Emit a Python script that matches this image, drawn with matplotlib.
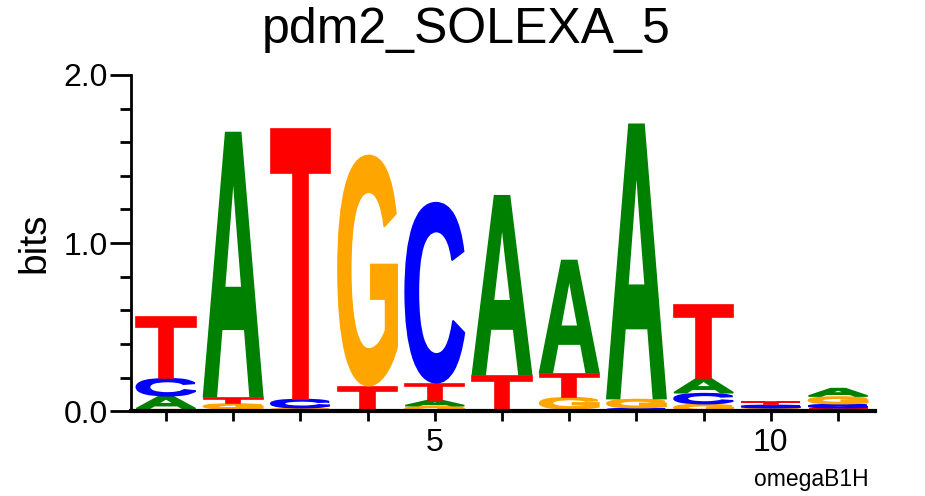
import matplotlib
matplotlib.use("Agg")
import matplotlib.pyplot as plt
from matplotlib.textpath import TextPath
from matplotlib.patches import PathPatch
from matplotlib.font_manager import FontProperties
from matplotlib.transforms import Affine2D

# information content (bits) per position for each base
positions = list(range(1, 12))
A = [0.077, 1.577, 0.0, 0.0, 0.036, 1.07, 0.673, 1.637, 0.089, 0.0, 0.05]
C = [0.107, 0.012, 0.054, 0.0, 1.077, 0.0, 0.012, 0.018, 0.065, 0.019, 0.024]
G = [0.012, 0.033, 0.018, 1.375, 0.03, 0.0, 0.071, 0.054, 0.042, 0.018, 0.045]
T = [0.369, 0.038, 1.607, 0.149, 0.1, 0.214, 0.143, 0.0, 0.44, 0.021, 0.018]
colors = {"A": "#008000", "C": "#0000ff", "G": "#ffa500", "T": "#ff0000"}

fp = FontProperties(family="Liberation Sans", weight="bold")
glyphs = {b: TextPath((0, 0), b, size=1, prop=fp) for b in "ACGT"}


def draw_letter(ax, base, x, y0, h, width=0.88):
    path = glyphs[base]
    ext = path.get_extents()
    tr = (Affine2D()
          .translate(-ext.x0, -ext.y0)
          .scale(width / ext.width, h / ext.height)
          .translate(x - width / 2, y0))
    # thin edge in same colour to make the glyphs a bit heavier
    ax.add_patch(PathPatch(tr.transform_path(path), fc=colors[base],
                           ec=colors[base], lw=1.2))


fig = plt.figure(figsize=(9.25, 4.96), dpi=100)
ax = fig.add_axes([0.1416, 0.171, 0.8044, 0.678])

for i, pos in enumerate(positions):
    col = sorted([("A", A[i]), ("C", C[i]), ("G", G[i]), ("T", T[i])],
                 key=lambda t: t[1])
    y = 0.0
    for base, h in col:
        if h > 0:
            draw_letter(ax, base, pos, y + 0.003, h - 0.006)
            y += h

ax.set_xlim(0.48, 11.55)
ax.set_ylim(0, 2.0)
for s in ["top", "right"]:
    ax.spines[s].set_visible(False)
ax.spines["left"].set_linewidth(2)
ax.spines["bottom"].set_linewidth(3)

ax.set_xticks(positions)
ax.set_xticklabels(["" if p not in (5, 10) else str(p) for p in positions],
                   fontsize=23, family="Liberation Sans")
ax.set_yticks([0, 1.0, 2.0])
ax.set_yticklabels(["0.0", "1.0", "2.0"], fontsize=23, family="Liberation Sans")
ax.set_yticks([0.2, 0.4, 0.6, 0.8, 1.2, 1.4, 1.6, 1.8], minor=True)
ax.tick_params(axis="y", which="major", length=15, width=2, pad=1.5)
ax.tick_params(axis="y", which="minor", length=8, width=2)
ax.tick_params(axis="x", which="major", length=7, width=2, pad=5)

fig.text(34 / 925, 0.51, "bits", fontsize=28, family="Liberation Sans",
         rotation=90, ha="center", va="center")
fig.text(0.504, 0.94, "pdm2_SOLEXA_5", fontsize=36, family="Liberation Sans",
         ha="center", va="center")
fig.text(811 / 925, 0.02, "omegaB1H", fontsize=16.5, family="Liberation Sans",
         ha="center", va="baseline")

fig.savefig("out.png", dpi=100)
